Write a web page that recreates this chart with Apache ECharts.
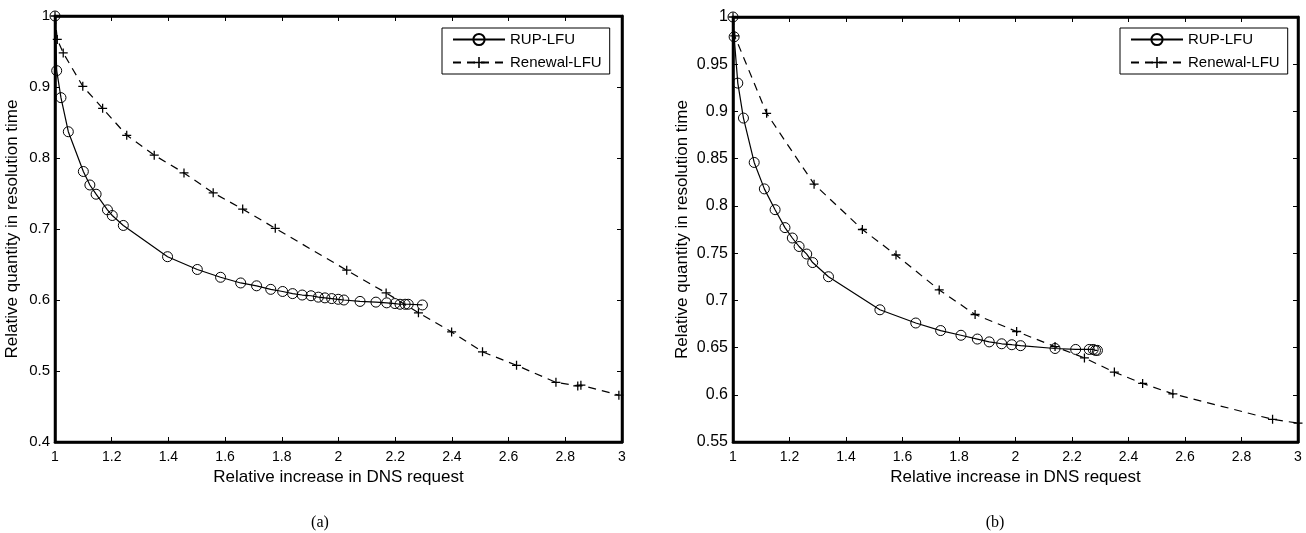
<!DOCTYPE html>
<html>
<head>
<meta charset="utf-8">
<script src="https://cdn.jsdelivr.net/npm/echarts@6/dist/echarts.min.js"></script>
<style>html,body{margin:0;padding:0;background:#fff}#c{width:1306px;height:533px}</style>
</head>
<body>
<div id="c"></div>
<script>
// Panel (a)
const aRupX = [1.0, 1.006, 1.021, 1.047, 1.10, 1.123, 1.145, 1.185, 1.202, 1.241, 1.397, 1.502, 1.584, 1.655, 1.711, 1.761, 1.803, 1.838, 1.872, 1.903, 1.929, 1.952, 1.976, 1.999, 2.019, 2.076, 2.132, 2.170, 2.199, 2.217, 2.235, 2.246, 2.296];
const aRupY = [1.0, 0.923, 0.885, 0.837, 0.781, 0.762, 0.749, 0.727, 0.719, 0.705, 0.661, 0.643, 0.632, 0.624, 0.620, 0.615, 0.612, 0.609, 0.607, 0.606, 0.604, 0.603, 0.602, 0.601, 0.600, 0.598, 0.597, 0.596, 0.595, 0.594, 0.594, 0.594, 0.593];
const aRenX = [1.0, 1.008, 1.029, 1.098, 1.168, 1.253, 1.350, 1.455, 1.558, 1.662, 1.777, 2.029, 2.168, 2.282, 2.399, 2.508, 2.628, 2.767, 2.844, 2.855, 2.989];
const aRenY = [1.0, 0.967, 0.948, 0.901, 0.870, 0.832, 0.804, 0.779, 0.751, 0.728, 0.701, 0.642, 0.610, 0.582, 0.555, 0.527, 0.508, 0.484, 0.479, 0.480, 0.466];
// Panel (b)
const bRupX = [1.0, 1.004, 1.017, 1.037, 1.075, 1.111, 1.149, 1.184, 1.210, 1.234, 1.261, 1.282, 1.338, 1.520, 1.647, 1.735, 1.807, 1.865, 1.907, 1.951, 1.987, 2.018, 2.140, 2.213, 2.261, 2.275, 2.283, 2.290];
const bRupY = [1.0, 0.979, 0.930, 0.893, 0.846, 0.818, 0.796, 0.777, 0.766, 0.757, 0.749, 0.740, 0.725, 0.690, 0.676, 0.668, 0.663, 0.659, 0.656, 0.654, 0.653, 0.652, 0.649, 0.648, 0.648, 0.648, 0.647, 0.647];
const bRenX = [1.0, 1.006, 1.119, 1.287, 1.458, 1.577, 1.730, 1.857, 2.004, 2.140, 2.244, 2.350, 2.450, 2.557, 2.910, 3.0];
const bRenY = [1.0, 0.980, 0.898, 0.823, 0.775, 0.748, 0.711, 0.685, 0.667, 0.651, 0.639, 0.624, 0.612, 0.601, 0.574, 0.570];

const seriesNames = ['RUP-LFU', 'Renewal-LFU'];
const xTitle = 'Relative increase in DNS request';
const yTitle = 'Relative quantity in resolution time';
const captions = ['(a)', '(b)'];

const zip = (xs, ys) => xs.map((x, i) => [x, ys[i]]);
const FONT = '"Liberation Sans", Arial, Helvetica, sans-serif';
const PLUS = 'path://M4.3,0H5.7V4.3H10V5.7H5.7V10H4.3V5.7H0V4.3H4.3Z';

function xAxes(gi) {
  const base = {
    type: 'value', gridIndex: gi, min: 1, max: 3, interval: 0.2,
    splitLine: {show: false},
    axisLine: {show: true, onZero: false, lineStyle: {color: '#000', width: 2.5}},
    axisTick: {show: true, inside: true, length: 5, lineStyle: {color: '#000', width: 1}}
  };
  return [
    Object.assign({}, base, {
      position: 'bottom', name: xTitle, nameLocation: 'middle', nameGap: 26,
      nameTextStyle: {fontFamily: FONT, fontSize: 17, color: '#000'},
      axisLabel: {fontFamily: FONT, fontSize: 14, color: '#000', margin: 8}
    }),
    Object.assign({}, base, {position: 'top', axisLabel: {show: false}})
  ];
}
function yAxes(gi, min, interval, gap, labelSize) {
  const base = {
    type: 'value', gridIndex: gi, min: min, max: 1, interval: interval,
    splitLine: {show: false},
    axisLine: {show: true, onZero: false, lineStyle: {color: '#000', width: 2.5}},
    axisTick: {show: true, inside: true, length: 5, lineStyle: {color: '#000', width: 1}}
  };
  return [
    Object.assign({}, base, {
      position: 'left', name: yTitle, nameLocation: 'middle', nameGap: gap,
      nameTextStyle: {fontFamily: FONT, fontSize: 17, color: '#000'},
      axisLabel: {fontFamily: FONT, fontSize: labelSize, color: '#000', margin: 5}
    }),
    Object.assign({}, base, {position: 'right', axisLabel: {show: false}})
  ];
}

function rup(data, xi, yi) {
  return {
    name: seriesNames[0], type: 'line', xAxisIndex: xi, yAxisIndex: yi, data: data,
    symbol: 'circle', symbolSize: 10, showAllSymbol: true, clip: false,
    lineStyle: {color: '#000', width: 1.2, type: 'solid'},
    itemStyle: {color: 'rgba(0,0,0,0)', borderColor: '#000', borderWidth: 1},
    z: 3
  };
}
function ren(data, xi, yi) {
  return {
    name: seriesNames[1], type: 'line', xAxisIndex: xi, yAxisIndex: yi, data: data,
    symbol: PLUS, symbolSize: 9, showAllSymbol: true, clip: false,
    lineStyle: {color: '#000', width: 1.2, type: [8, 6]},
    itemStyle: {color: '#000'},
    z: 2
  };
}

function legend(left) {
  return {
    left: left, top: 28, orient: 'vertical',
    data: seriesNames,
    itemWidth: 52, itemHeight: 14, itemGap: 8,
    padding: [4, 8, 4, 10],
    borderColor: '#000', borderWidth: 1, backgroundColor: '#fff',
    textStyle: {fontFamily: FONT, fontSize: 15, color: '#000'},
    selectedMode: false
  };
}

const option = {
  backgroundColor: '#fff',
  animation: false,
  title: [
    {text: captions[0], left: 315, top: 510, textAlign: 'center',
     textStyle: {fontFamily: '"Liberation Serif", "Times New Roman", serif', fontSize: 16, fontWeight: 'normal', color: '#000'}},
    {text: captions[1], left: 990, top: 510, textAlign: 'center',
     textStyle: {fontFamily: '"Liberation Serif", "Times New Roman", serif', fontSize: 16, fontWeight: 'normal', color: '#000'}}
  ],
  legend: [legend(442), legend(1120)],
  grid: [
    {left: 55, top: 16, width: 567, height: 426, show: true, borderColor: '#000', borderWidth: 2.5, backgroundColor: 'transparent'},
    {left: 733, top: 17, width: 565, height: 425, show: true, borderColor: '#000', borderWidth: 2.5, backgroundColor: 'transparent'}
  ],
  xAxis: [...xAxes(0), ...xAxes(1)],
  yAxis: [...yAxes(0, 0.4, 0.1, 34, 15), ...yAxes(1, 0.55, 0.05, 42, 16)],
  series: [
    rup(zip(aRupX, aRupY), 0, 0),
    ren(zip(aRenX, aRenY), 0, 0),
    rup(zip(bRupX, bRupY), 2, 2),
    ren(zip(bRenX, bRenY), 2, 2)
  ]
};

const chart = echarts.init(document.getElementById('c'), null, {renderer: 'canvas'});
chart.setOption(option);
</script>
</body>
</html>
